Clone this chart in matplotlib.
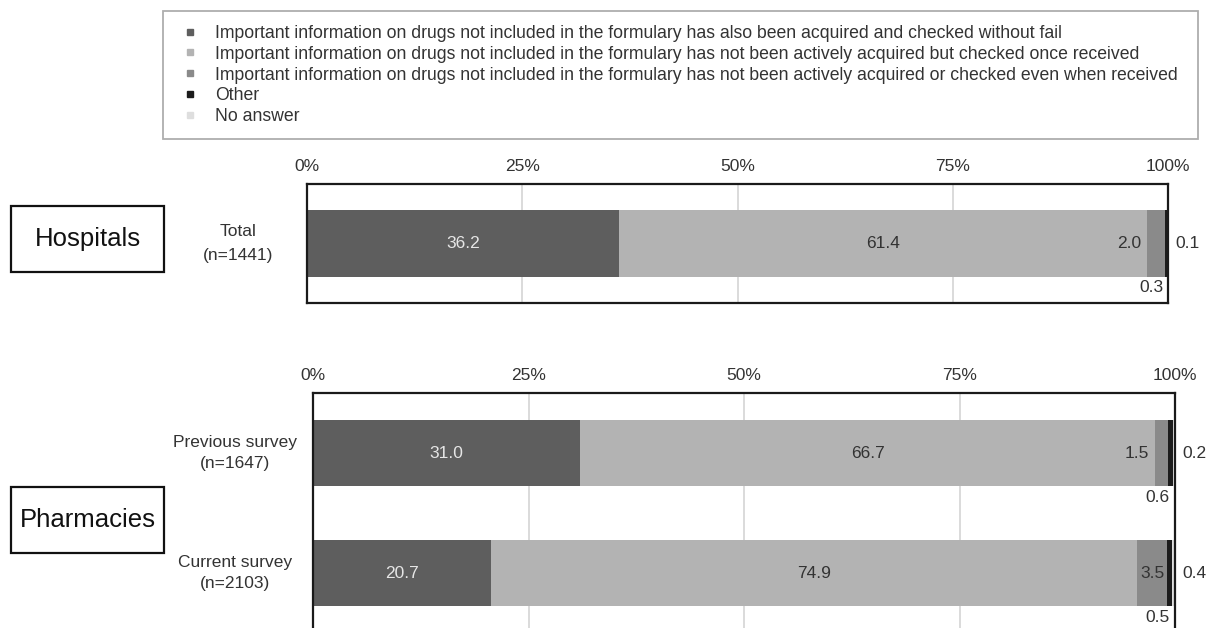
import matplotlib
matplotlib.use("Agg")
import matplotlib.pyplot as plt
from matplotlib.patches import Rectangle
from matplotlib.lines import Line2D
from matplotlib.transforms import blended_transform_factory, offset_copy

plt.rcParams["font.family"] = ["Liberation Sans", "DejaVu Sans"]

# ---- data -------------------------------------------------------------
series_names = [
    "Important information on drugs not included in the formulary has also been acquired and checked without fail",
    "Important information on drugs not included in the formulary has not been actively acquired but checked once received",
    "Important information on drugs not included in the formulary has not been actively acquired or checked even when received",
    "Other",
    "No answer",
]
series_colors = ["#5e5e5e", "#b3b3b3", "#8a8a8a", "#1c1c1c", "#dedede"]

hosp_groups = ["Total\n(n=1441)"]
hosp_values = [
    [36.2],   # acquired and checked
    [61.4],   # checked once received
    [2.0],    # not acquired or checked
    [0.3],    # other
    [0.1],    # no answer
]

pharm_groups = ["Previous survey\n(n=1647)", "Current survey\n(n=2103)"]
pharm_values = [
    [31.0, 20.7],
    [66.7, 74.9],
    [1.5, 3.5],
    [0.6, 0.5],
    [0.2, 0.4],
]

section_titles = ["Hospitals", "Pharmacies"]
tick_values = [0, 25, 50, 75, 100]
tick_labels = ["0%", "25%", "50%", "75%", "100%"]

# ---- figure -----------------------------------------------------------
W, H = 1207, 628
fig = plt.figure(figsize=(W / 100, H / 100), dpi=100)

TXT = "#333333"


def px_rect(x0, top, x1, bottom):
    return [x0 / W, 1 - bottom / H, (x1 - x0) / W, (bottom - top) / H]


def draw_panel(ax, groups, values, label_x, spacing):
    n = len(groups)
    ypos = list(range(n))
    bar_h = 0.555
    ax.set_xlim(0, 100)
    ax.set_ylim(n - 0.5, -0.5)
    for v in (25, 50, 75):
        ax.axvline(v, color="#dadada", lw=1.4, zorder=0)
    lefts = [0.0] * n
    for s, vals in enumerate(values):
        ax.barh(ypos, vals, left=lefts, height=bar_h, color=series_colors[s],
                edgecolor="none", zorder=2)
        for i, v in enumerate(vals):
            start = lefts[i]
            if s == 0:
                ax.text(start + v / 2, i, f"{v:.1f}", ha="center", va="center",
                        color="#e6e6e6", fontsize=12.5, zorder=3)
            elif s == 1:
                ax.text(start + v / 2, i, f"{v:.1f}", ha="center", va="center",
                        color=TXT, fontsize=12.5, zorder=3)
            elif s == 2:
                if v >= 3:
                    ax.text(start + v / 2, i, f"{v:.1f}", ha="center", va="center",
                            color=TXT, fontsize=12.5, zorder=3)
                else:
                    tr = offset_copy(ax.transData, fig=fig, x=-6, y=0, units="dots")
                    ax.text(start, i, f"{v:.1f}", ha="right", va="center",
                            color=TXT, fontsize=12.5, transform=tr, zorder=3)
            elif s == 3:
                tr = offset_copy(ax.transData, fig=fig, x=-5, y=0, units="dots")
                ax.text(100, i + bar_h / 2 + 0.03, f"{v:.1f}", ha="right", va="top",
                        color=TXT, fontsize=12.5, transform=tr, zorder=3)
            elif s == 4:
                tr = offset_copy(ax.transData, fig=fig, x=7, y=0, units="dots")
                ax.text(100, i, f"{v:.1f}", ha="left", va="center",
                        color=TXT, fontsize=12.5, transform=tr, clip_on=False)
            lefts[i] += v
    ax.xaxis.tick_top()
    ax.set_xticks(tick_values)
    ax.set_xticklabels(tick_labels, color=TXT, fontsize=12.5)
    ax.tick_params(axis="x", length=0, pad=7)
    ax.set_yticks([])
    for sp in ax.spines.values():
        sp.set_color("#1a1a1a")
        sp.set_linewidth(1.6)
    trans = blended_transform_factory(fig.transFigure, ax.transData)
    for i, g in enumerate(groups):
        ax.text(label_x / W, i, g, ha="center", va="center", color=TXT,
                fontsize=12.5, linespacing=spacing, transform=trans, clip_on=False)


ax1 = fig.add_axes(px_rect(307, 184, 1168, 303))
draw_panel(ax1, hosp_groups, hosp_values, 238, 1.7)

ax2 = fig.add_axes(px_rect(313, 393, 1175, 633))
draw_panel(ax2, pharm_groups, pharm_values, 235, 1.55)

# section boxes on the left
for title, (top, bottom) in zip(section_titles, [(206, 272), (487, 553)]):
    x0, x1 = 11, 164
    fig.patches.append(Rectangle((x0 / W, 1 - bottom / H), (x1 - x0) / W,
                                 (bottom - top) / H, transform=fig.transFigure,
                                 facecolor="white", edgecolor="#111111", lw=1.6))
    fig.text((x0 + x1) / 2 / W, 1 - (top + bottom) / 2 / H, title, ha="center",
             va="center", fontsize=18.5, color="#111111")

# legend
handles = [Line2D([], [], ls="none", marker="s", markersize=4.5, color=c,
                  markeredgecolor=c) for c in series_colors]
leg = fig.legend(handles, series_names, loc="upper left",
                 bbox_to_anchor=(163 / W, 1 - 134 / H, (1198 - 163) / W, (134 - 11) / H),
                 bbox_transform=fig.transFigure, mode="expand", ncol=1,
                 fontsize=12.7, labelspacing=0.22, handlelength=1.5,
                 handletextpad=0.65, borderpad=0.78, borderaxespad=0,
                 fancybox=False, frameon=True, labelcolor=TXT)
leg.get_frame().set_edgecolor("#9a9a9a")
leg.get_frame().set_linewidth(1.3)

fig.savefig("out.png", dpi=100)
